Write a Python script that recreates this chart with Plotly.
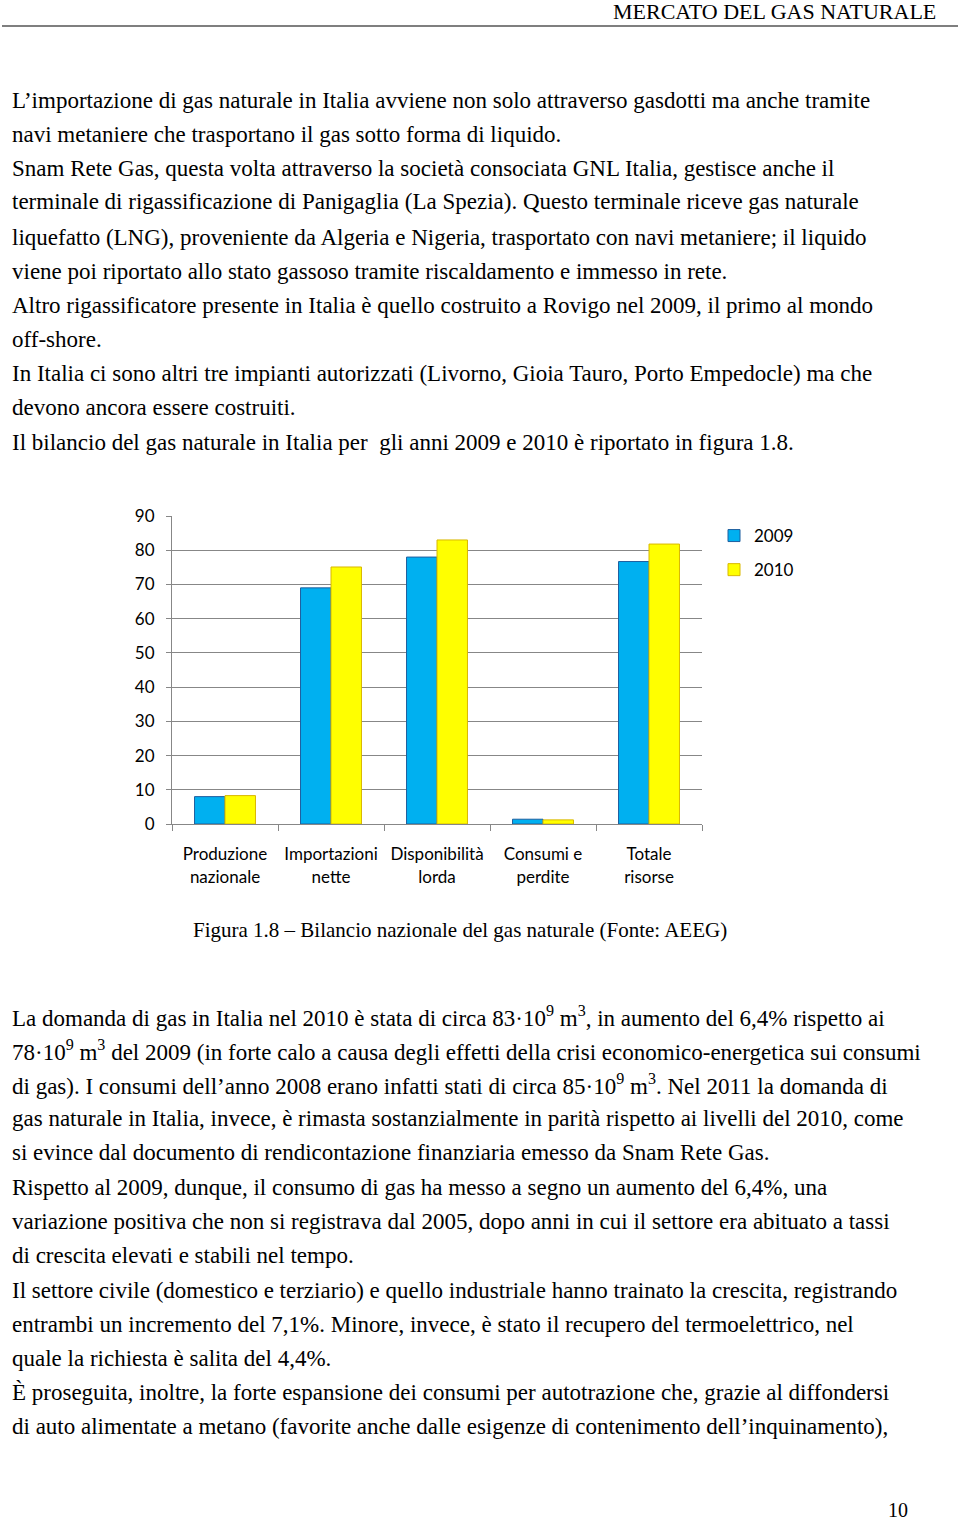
import plotly.graph_objects as go

# chart data (10^9 m3)
categorie = ["Produzione<br>nazionale", "Importazioni<br>nette", "Disponibilità<br>lorda",
             "Consumi e<br>perdite", "Totale<br>risorse"]
val_2009 = [8.0, 69.0, 78.0, 1.4, 76.7]
val_2010 = [8.3, 75.1, 83.0, 1.2, 81.8]
y_ticks = [0, 10, 20, 30, 40, 50, 60, 70, 80, 90]

header = "MERCATO DEL GAS NATURALE"
caption = "Figura 1.8 – Bilancio nazionale del gas naturale (Fonte: AEEG)"
page_num = "10"

testo_sopra = [
    "L’importazione di gas naturale in Italia avviene non solo attraverso gasdotti ma anche tramite",
    "navi metaniere che trasportano il gas sotto forma di liquido.",
    "Snam Rete Gas, questa volta attraverso la società consociata GNL Italia, gestisce anche il",
    "terminale di rigassificazione di Panigaglia (La Spezia). Questo terminale riceve gas naturale",
    "liquefatto (LNG), proveniente da Algeria e Nigeria, trasportato con navi metaniere; il liquido",
    "viene poi riportato allo stato gassoso tramite riscaldamento e immesso in rete.",
    "Altro rigassificatore presente in Italia è quello costruito a Rovigo nel 2009, il primo al mondo",
    "off-shore.",
    "In Italia ci sono altri tre impianti autorizzati (Livorno, Gioia Tauro, Porto Empedocle) ma che",
    "devono ancora essere costruiti.",
    "Il bilancio del gas naturale in Italia per  gli anni 2009 e 2010 è riportato in figura 1.8.",
]
testo_sotto = [
    "La domanda di gas in Italia nel 2010 è stata di circa 83·10<sup>9</sup> m<sup>3</sup>, in aumento del 6,4% rispetto ai",
    "78·10<sup>9</sup> m<sup>3</sup> del 2009 (in forte calo a causa degli effetti della crisi economico-energetica sui consumi",
    "di gas). I consumi dell’anno 2008 erano infatti stati di circa 85·10<sup>9</sup> m<sup>3</sup>. Nel 2011 la domanda di",
    "gas naturale in Italia, invece, è rimasta sostanzialmente in parità rispetto ai livelli del 2010, come",
    "si evince dal documento di rendicontazione finanziaria emesso da Snam Rete Gas.",
    "Rispetto al 2009, dunque, il consumo di gas ha messo a segno un aumento del 6,4%, una",
    "variazione positiva che non si registrava dal 2005, dopo anni in cui il settore era abituato a tassi",
    "di crescita elevati e stabili nel tempo.",
    "Il settore civile (domestico e terziario) e quello industriale hanno trainato la crescita, registrando",
    "entrambi un incremento del 7,1%. Minore, invece, è stato il recupero del termoelettrico, nel",
    "quale la richiesta è salita del 4,4%.",
    "È proseguita, inoltre, la forte espansione dei consumi per autotrazione che, grazie al diffondersi",
    "di auto alimentate a metano (favorite anche dalle esigenze di contenimento dell’inquinamento),",
]
righe_sopra_y = [100, 134, 168, 202, 237, 271, 305, 339, 373, 407, 442]
righe_sotto_y = [1016, 1050, 1084, 1118, 1152, 1187, 1221, 1255, 1290, 1324, 1358, 1392, 1426]

W, H = 960, 1521
L, R, T, B = 172, 702, 516, 824  # plot area in pixels


def px_x(p):
    return (p - L) / (R - L)


def px_y(p):
    return (B - p) / (B - T)


serif = "Liberation Serif"
sans = "Lato"
grey = "#878787"

fig = go.Figure()
fig.add_trace(go.Bar(x=categorie, y=val_2009, name="2009", legendgroup="a",
                     marker=dict(color="#00B0F0", line=dict(color="#1F5F9F", width=1))))
fig.add_trace(go.Bar(x=categorie, y=val_2010, name="2010", legendgroup="b",
                     marker=dict(color="#FFFF00", line=dict(color="#D9B800", width=1))))

ann = []
for t, y in zip(testo_sopra + testo_sotto, righe_sopra_y + righe_sotto_y):
    ann.append(dict(text=t, x=px_x(10), y=px_y(y), xref="paper", yref="paper",
                    xanchor="left", yanchor="middle", showarrow=False,
                    font=dict(family=serif, size=23, color="black")))
ann.append(dict(text=header, x=px_x(938), y=px_y(11), xref="paper", yref="paper",
                xanchor="right", yanchor="middle", showarrow=False,
                font=dict(family=serif, size=22, color="black")))
ann.append(dict(text=caption, x=px_x(460), y=px_y(930), xref="paper", yref="paper",
                xanchor="center", yanchor="middle", showarrow=False,
                font=dict(family=serif, size=21, color="black")))
ann.append(dict(text=page_num, x=px_x(910), y=px_y(1510), xref="paper", yref="paper",
                xanchor="right", yanchor="middle", showarrow=False,
                font=dict(family=serif, size=20, color="black")))

fig.update_layout(
    width=W, height=H,
    margin=dict(l=L, r=W - R, t=T, b=H - B, pad=0),
    paper_bgcolor="white", plot_bgcolor="white",
    barmode="group", bargap=0.425, bargroupgap=0,
    font=dict(family=sans, size=17, color="black"),
    legend=dict(x=px_x(714), y=px_y(518), xanchor="left", yanchor="top",
                font=dict(family=sans, size=17), tracegroupgap=9,
                bgcolor="rgba(0,0,0,0)"),
    annotations=ann,
    shapes=[dict(type="line", xref="paper", yref="paper",
                 x0=px_x(2), x1=px_x(958), y0=px_y(26), y1=px_y(26),
                 line=dict(color="#7f7f7f", width=2))],
)
fig.update_xaxes(showline=True, linecolor=grey, linewidth=1, ticks="outside",
                 tickson="boundaries", ticklen=6, tickcolor=grey, tickangle=0,
                 ticklabelstandoff=15, tickfont=dict(family=sans, size=17))
fig.update_yaxes(range=[0, 90], tickvals=y_ticks, showgrid=True, gridcolor=grey,
                 gridwidth=1, showline=True, linecolor=grey, linewidth=1,
                 ticks="outside", ticklen=5, tickcolor=grey, zeroline=False,
                 ticklabelstandoff=8, tickfont=dict(family=sans, size=17))

fig.write_html("out.html", config={"displayModeBar": False},
               post_script="document.body.style.margin='0';")
